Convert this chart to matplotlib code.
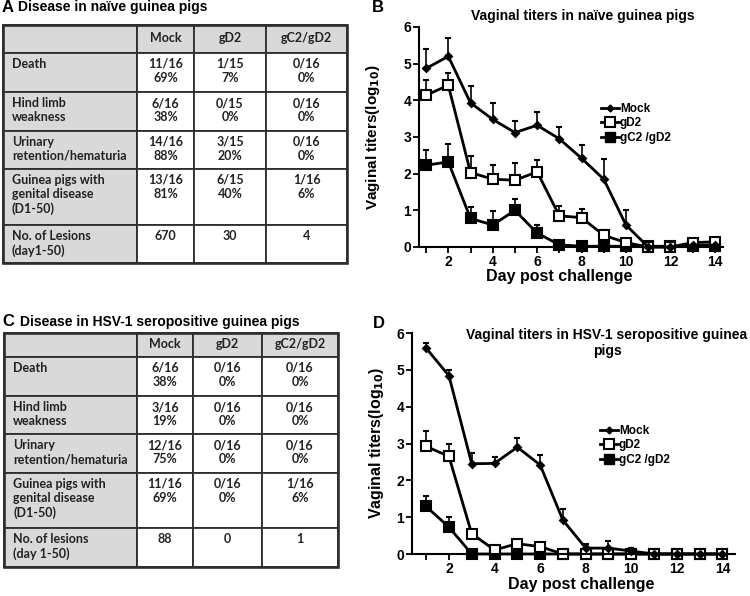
import matplotlib
matplotlib.use("Agg")
import matplotlib.pyplot as plt
from matplotlib.patches import Rectangle
from matplotlib.lines import Line2D
from matplotlib.ticker import MultipleLocator
import numpy as np

plt.rcParams["font.family"] = ["Liberation Sans", "DejaVu Sans"]
plt.rcParams["font.weight"] = "bold"
TFONT = ["Lato", "DejaVu Sans"]

# ---------------- table data
groups = ["Mock", "gD2", "gC2/gD2"]
rows_A = ["Death", "Hind limb\nweakness", "Urinary\nretention/hematuria",
          "Guinea pigs with\ngenital disease\n(D1-50)", "No. of Lesions\n(day1-50)"]
cells_A = [["11/16\n69%", "1/15\n7%", "0/16\n0%"],
           ["6/16\n38%", "0/15\n0%", "0/16\n0%"],
           ["14/16\n88%", "3/15\n20%", "0/16\n0%"],
           ["13/16\n81%", "6/15\n40%", "1/16\n6%"],
           ["670", "30", "4"]]
rows_C = ["Death", "Hind limb\nweakness", "Urinary\nretention/hematuria",
          "Guinea pigs with\ngenital disease\n(D1-50)", "No. of lesions\n(day 1-50)"]
cells_C = [["6/16\n38%", "0/16\n0%", "0/16\n0%"],
           ["3/16\n19%", "0/16\n0%", "0/16\n0%"],
           ["12/16\n75%", "0/16\n0%", "0/16\n0%"],
           ["11/16\n69%", "0/16\n0%", "1/16\n6%"],
           ["88", "0", "1"]]

# ---------------- titer data (log10), upper error only
days = np.arange(1, 15)
B_mock = [4.87, 5.20, 3.93, 3.48, 3.12, 3.32, 2.95, 2.42, 1.85, 0.60, 0.0, 0.0, 0.05, 0.05]
B_mock_err = [0.53, 0.50, 0.47, 0.46, 0.33, 0.35, 0.32, 0.37, 0.55, 0.40, 0, 0, 0, 0]
B_gd2 = [4.14, 4.41, 2.03, 1.85, 1.82, 2.05, 0.85, 0.80, 0.32, 0.12, 0.0, 0.0, 0.12, 0.14]
B_gd2_err = [0.41, 0.33, 0.44, 0.40, 0.47, 0.33, 0.27, 0.25, 0.15, 0.05, 0, 0, 0, 0]
B_gc2 = [2.23, 2.32, 0.78, 0.60, 1.00, 0.38, 0.06, 0.02, 0.02, 0.02, 0.02, 0.02, 0.02, 0.02]
B_gc2_err = [0.42, 0.50, 0.31, 0.37, 0.30, 0.22, 0, 0, 0, 0, 0, 0, 0, 0]

D_mock = [5.59, 4.84, 2.45, 2.46, 2.90, 2.42, 0.92, 0.16, 0.16, 0.08, 0, 0, 0, 0]
D_mock_err = [0.14, 0.16, 0.30, 0.17, 0.24, 0.27, 0.29, 0.10, 0.18, 0.07, 0, 0, 0, 0]
D_gd2 = [2.92, 2.65, 0.55, 0.11, 0.28, 0.20, 0, 0, 0, 0, 0, 0, 0, 0]
D_gd2_err = [0.41, 0.33, 0.10, 0.05, 0.10, 0.09, 0, 0, 0, 0, 0, 0, 0, 0]
D_gc2 = [1.29, 0.73, 0, 0, 0, 0, 0, 0, 0, 0, 0, 0, 0, 0]
D_gc2_err = [0.29, 0.28, 0, 0, 0, 0, 0, 0, 0, 0, 0, 0, 0, 0]

legend_labels = ["Mock", "gD2", "gC2 /gD2"]

fig = plt.figure(figsize=(7.5, 5.96), dpi=100)
ax0 = fig.add_axes([0, 0, 1, 1])
ax0.set_xlim(0, 750); ax0.set_ylim(596, 0); ax0.axis("off")

GRIS = "#d9d9d9"
BORDE = "#2e2e2e"

def tabla(xs, ys, rows, cells):
    nr, nc = len(ys) - 1, len(xs) - 1
    for i in range(nr):
        for j in range(nc):
            fc = GRIS if (i == 0 or j == 0) else "white"
            ax0.add_patch(Rectangle((xs[j], ys[i]), xs[j+1] - xs[j], ys[i+1] - ys[i],
                                    fc=fc, ec=BORDE, lw=1.3))
    ax0.add_patch(Rectangle((xs[0], ys[0]), xs[-1] - xs[0], ys[-1] - ys[0],
                            fc="none", ec=BORDE, lw=1.9))
    for j, g in enumerate(groups):
        ax0.text((xs[j+1] + xs[j+2]) / 2, (ys[0] + ys[1]) / 2 - 1, g, family=TFONT,
                 fontsize=9, weight="bold", ha="center", va="center", color="#222")
    for i, lab in enumerate(rows):
        y0 = ys[i+1] + 5
        ax0.text(xs[0] + 9, y0, lab, family=TFONT, fontsize=9, weight="bold",
                 ha="left", va="top", color="#222", linespacing=1.2)
        for j, c in enumerate(cells[i]):
            ax0.text((xs[j+1] + xs[j+2]) / 2, y0, c, family=TFONT, fontsize=9,
                     weight="bold", ha="center", va="top", color="#222", linespacing=1.2)

tabla([3, 137, 194, 266, 347], [25, 53, 92, 131, 169, 225, 263], rows_A, cells_A)
tabla([4, 137, 193, 262, 338], [333, 357, 396, 434, 473, 528, 567], rows_C, cells_C)

ax0.text(2, 7, "A", fontsize=12, ha="left", va="center")
ax0.text(18, 7, "Disease in naïve guinea pigs", fontsize=10, ha="left", va="center")
ax0.text(2, 322, "C", fontsize=12, ha="left", va="center")
ax0.text(20, 322, "Disease in HSV-1 seropositive guinea pigs", fontsize=10, ha="left", va="center")
ax0.text(372, 7, "B", fontsize=12, ha="left", va="center")
ax0.text(373, 323, "D", fontsize=12, ha="left", va="center")

def panel(rect, xlim, mock, mock_e, gd2, gd2_e, gc2, gc2_e):
    ax = fig.add_axes(rect)
    ax.set_facecolor("none")
    z = np.zeros(len(days))
    kw = dict(color="black", lw=2, elinewidth=1.2, capsize=2.5, capthick=1.2, clip_on=False)
    for y, e, mk, ms, mfc in [(gc2, gc2_e, "s", 7, "black"),
                              (gd2, gd2_e, "s", 6.5, "white"),
                              (mock, mock_e, "D", 3.5, "black")]:
        eb = ax.errorbar(days, y, yerr=[z, e], marker=mk, ms=ms, mfc=mfc, mec="black",
                         mew=1.5, **kw)
        for art in eb.lines[1] + eb.lines[2]:
            art.set_clip_on(False)
    ax.set_xlim(*xlim); ax.set_ylim(0, 6)
    for s in ["top", "right"]:
        ax.spines[s].set_visible(False)
    for s in ["left", "bottom"]:
        ax.spines[s].set_linewidth(1.5)
    ax.xaxis.set_major_locator(MultipleLocator(2))
    ax.xaxis.set_minor_locator(MultipleLocator(1))
    ax.yaxis.set_major_locator(MultipleLocator(1))
    ax.tick_params(which="both", direction="out", length=4, width=1.3, pad=1.5, labelsize=10)
    ax.set_xticks([2, 4, 6, 8, 10, 12, 14])
    for t in ax.get_xticklabels() + ax.get_yticklabels():
        t.set_fontweight("bold")
    return ax

axB = panel([419/750, 1 - 247/596, 304/750, 220/596], (0.68, 14.37),
            B_mock, B_mock_err, B_gd2, B_gd2_err, B_gc2, B_gc2_err)
axD = panel([412/750, 1 - 554/596, 323/750, 221/596], (0.38, 14.55),
            D_mock, D_mock_err, D_gd2, D_gd2_err, D_gc2, D_gc2_err)

fig.text(583/750, 1 - 16/596, "Vaginal titers in naïve guinea pigs", fontsize=10,
         ha="center", va="center")
fig.text(607/750, 1 - 343/596, "Vaginal titers in HSV-1 seropositive guinea\npigs",
         fontsize=10, ha="center", va="center", linespacing=1.1)

ax0.text(373, 137, "Vaginal titers(log$_{\\mathbf{10}}$)", fontsize=11, rotation=90,
         ha="center", va="center")
ax0.text(377, 443, "Vaginal titers(log$_{\\mathbf{10}}$)", fontsize=11.5, rotation=90,
         ha="center", va="center")
ax0.text(559, 276, "Day post challenge", fontsize=11.5, ha="center", va="center")
ax0.text(581, 584, "Day post challenge", fontsize=11.5, ha="center", va="center")

handles = [Line2D([], [], color="black", lw=2, marker="D", ms=3.5),
           Line2D([], [], color="black", lw=2, marker="s", ms=6.5, mfc="white", mew=1.5),
           Line2D([], [], color="black", lw=2, marker="s", ms=7)]
for anchor in [(601/750, 1 - 103/596), (600/750, 1 - 425/596)]:
    fig.legend(handles, legend_labels, loc="upper left", bbox_to_anchor=anchor,
               frameon=False, handlelength=1.5, handletextpad=0.1, labelspacing=0.2,
               borderpad=0, borderaxespad=0, prop=dict(size=8.5, weight="bold"))

fig.savefig("out.png", dpi=100, facecolor="white")
